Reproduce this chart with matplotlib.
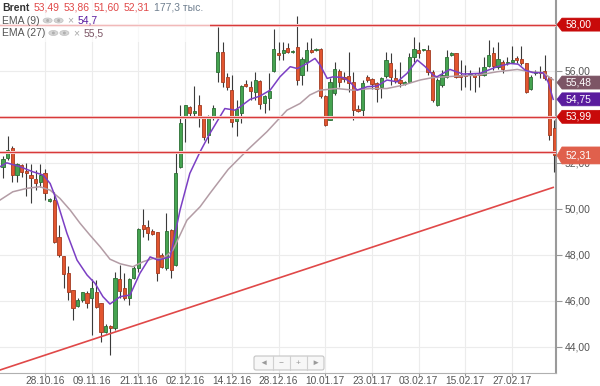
import matplotlib
matplotlib.use("Agg")
import matplotlib.pyplot as plt
from matplotlib.patches import Polygon, FancyBboxPatch, Ellipse, Rectangle
from matplotlib.lines import Line2D
from matplotlib.transforms import IdentityTransform
from matplotlib.ticker import FuncFormatter
import numpy as np

plt.rcParams['font.family'] = ['Liberation Sans', 'DejaVu Sans']

# daily candles, Brent
opens = [51.82, 52.18, 52.62, 51.46, 51.89, 51.64, 51.46, 51.27, 51.17, 51.53,
         50.35, 50.37, 48.75, 47.93, 47.18, 46.46, 45.78, 46.02, 46.34, 46.10,
         46.38, 45.88, 44.65, 44.88, 44.79, 46.92, 46.53, 46.10, 46.96, 47.40,
         49.27, 49.21, 49.04, 48.99, 47.98, 47.40, 49.07, 47.55, 51.82, 53.92,
         54.40, 54.17, 54.50, 53.99, 53.20, 54.02, 55.92, 56.79, 55.73, 55.15,
         53.82, 54.14, 55.43, 55.30, 55.08, 55.56, 54.60, 54.83, 55.99, 56.75,
         56.75, 56.99, 56.82, 57.04, 55.80, 56.38, 56.89, 56.89, 56.96, 54.89,
         53.85, 55.01, 55.99, 55.73, 55.76, 55.51, 54.31, 54.28, 55.70, 55.62,
         55.47, 55.30, 55.76, 56.35, 55.66, 55.59, 55.41, 55.51, 56.60, 56.89,
         56.89, 56.89, 55.95, 54.50, 55.37, 55.70, 56.70, 56.75, 55.80, 55.83,
         55.80, 55.80, 55.91, 55.80, 56.20, 56.75, 56.17, 56.38, 56.31, 56.38,
         56.53, 56.49, 56.31, 55.22, 55.88, 55.95, 55.99, 55.70, 53.49]
highs = [52.30, 53.15, 52.72, 52.00, 51.96, 51.99, 51.96, 51.67, 51.96, 51.70,
         50.46, 50.73, 49.28, 47.93, 47.51, 46.46, 46.10, 46.38, 46.40, 46.92,
         46.89, 45.88, 44.98, 44.95, 47.25, 47.55, 47.18, 46.96, 47.50, 49.14,
         49.98, 49.50, 49.10, 49.00, 48.05, 49.82, 49.10, 52.40, 54.50, 54.50,
         54.46, 55.33, 54.93, 53.99, 54.07, 54.50, 57.90, 57.25, 55.88, 55.80,
         54.72, 55.37, 55.59, 55.56, 55.95, 55.59, 54.93, 55.88, 57.83, 57.25,
         57.25, 57.18, 56.89, 58.37, 56.60, 57.25, 57.40, 57.00, 57.00, 54.93,
         55.66, 56.38, 56.09, 55.95, 56.82, 55.95, 54.50, 55.59, 55.80, 55.66,
         55.51, 55.73, 56.82, 56.75, 56.09, 56.38, 55.55, 56.75, 57.47, 57.25,
         56.95, 57.10, 56.02, 55.66, 56.02, 56.89, 56.80, 56.78, 56.46, 56.24,
         56.02, 55.88, 56.17, 56.57, 57.33, 57.04, 57.25, 56.45, 56.60, 57.07,
         56.63, 57.07, 56.31, 55.80, 56.02, 56.20, 56.68, 55.73, 53.86]
lows = [51.31, 52.10, 51.17, 51.17, 51.38, 50.54, 50.25, 50.80, 50.95, 50.37,
        50.28, 48.50, 47.90, 46.53, 46.02, 45.15, 45.73, 45.95, 45.66, 44.50,
        45.66, 44.21, 44.57, 43.63, 44.72, 46.10, 46.02, 45.80, 46.92, 47.25,
        48.78, 48.63, 48.85, 46.86, 47.40, 47.33, 46.96, 47.50, 51.75, 52.90,
        53.99, 53.99, 53.53, 52.98, 52.83, 53.85, 55.50, 55.30, 55.15, 53.56,
        53.15, 53.73, 55.27, 54.72, 54.72, 54.35, 54.14, 54.28, 55.95, 56.46,
        56.46, 56.75, 56.75, 55.37, 55.37, 55.99, 56.75, 56.85, 54.79, 53.59,
        53.85, 54.93, 55.30, 55.51, 55.08, 53.85, 54.21, 53.92, 55.51, 55.22,
        54.65, 54.79, 55.66, 55.37, 55.44, 55.30, 55.37, 55.44, 56.38, 56.53,
        56.85, 55.80, 54.65, 54.46, 55.30, 55.66, 56.65, 55.66, 55.15, 55.30,
        55.15, 55.08, 55.30, 55.76, 56.17, 56.02, 56.09, 55.88, 56.24, 56.31,
        56.31, 56.24, 55.04, 55.15, 55.80, 55.66, 55.59, 52.98, 51.60]
closes = [52.14, 52.54, 51.46, 51.96, 51.60, 51.56, 51.35, 51.12, 51.46, 50.66,
          50.40, 48.56, 47.98, 47.15, 46.38, 45.66, 46.02, 46.38, 45.88, 46.53,
          45.73, 44.65, 44.89, 44.80, 46.96, 46.43, 46.10, 46.92, 47.43, 49.10,
          49.12, 48.92, 48.90, 47.18, 47.47, 49.04, 47.33, 51.53, 53.70, 54.50,
          54.14, 54.25, 53.96, 53.10, 53.96, 54.38, 56.79, 55.51, 55.27, 53.78,
          54.35, 55.33, 55.33, 55.12, 55.59, 54.54, 54.90, 55.12, 56.93, 56.67,
          56.89, 56.82, 56.85, 55.59, 56.49, 56.89, 56.79, 56.96, 54.89, 53.63,
          55.51, 56.09, 55.51, 55.62, 55.47, 54.28, 54.25, 55.47, 55.59, 55.41,
          55.22, 55.66, 56.46, 55.70, 55.56, 55.44, 55.51, 56.60, 56.92, 56.75,
          56.92, 55.95, 54.72, 55.59, 55.80, 56.60, 56.75, 55.73, 55.73, 55.76,
          55.87, 55.70, 55.83, 56.17, 56.68, 56.20, 56.49, 56.09, 56.38, 56.46,
          56.46, 56.31, 55.08, 55.73, 55.95, 55.88, 55.66, 53.20, 52.31]

# indicator lines (candle index, value)
ema9_x = [0.36, 1.8, 4.65, 7.4, 9.6, 11.1, 12.6, 14.7, 16.85, 19.0, 20.7, 22.4,
          23.9, 26.1, 28.2, 30.3, 32.5, 34.2, 36.8, 38.9, 41.0, 43.2, 45.3,
          48.5, 50.7, 51.8, 53.9, 56.0, 58.2, 60.3, 62.5, 64.0, 66.1, 67.8,
          68.9, 70.4, 71.7, 73.8, 75.3, 76.8, 79.0, 81.1, 83.2, 85.4, 87.5,
          89.7, 91.4, 93.1, 93.9, 96.7, 99.5, 103.1, 106.8, 109.6, 111.3,
          112.8, 114.5, 116.6, 117.7, 118.8]
ema9_y = [51.82, 51.99, 51.82, 51.60, 51.46, 51.09, 50.30, 48.92, 47.76, 47.11,
          46.75, 46.17, 45.85, 46.17, 46.24, 47.18, 47.90, 47.76, 47.90, 49.93,
          51.53, 52.47, 53.27, 54.35, 54.28, 54.43, 54.75, 54.89, 55.15, 55.73,
          56.17, 56.09, 56.31, 56.53, 56.24, 55.66, 55.73, 55.70, 55.51, 55.15,
          55.30, 55.33, 55.59, 55.51, 55.88, 56.46, 56.17, 55.80, 55.73, 56.05,
          55.85, 55.88, 56.17, 56.31, 56.28, 56.02, 55.91, 55.91, 55.51, 54.75]
ema27_x = [0.36, 3.1, 6.1, 8.9, 11.1, 13.2, 15.4, 17.5, 19.6, 21.8, 23.9, 26.1,
           28.8, 31.0, 33.1, 35.3, 37.4, 40.4, 43.2, 45.3, 49.2, 53.3, 57.5,
           61.8, 64.6, 66.7, 68.9, 72.5, 76.0, 79.6, 83.2, 86.7, 90.3, 93.1,
           98.2, 102.5, 106.8, 111.1, 113.9, 116.6, 118.8]
ema27_y = [50.37, 50.73, 50.88, 50.95, 50.80, 50.44, 49.93, 49.36, 48.85, 48.34,
           47.80, 47.60, 47.47, 47.69, 47.83, 47.83, 48.20, 49.50, 50.08, 50.66,
           51.70, 52.54, 53.34, 54.28, 54.57, 54.94, 55.15, 55.22, 55.15, 55.22,
           55.22, 55.37, 55.59, 55.70, 55.76, 55.80, 55.95, 56.05, 55.95, 55.91,
           55.60]

date_labels = ["28.10.16", "09.11.16", "21.11.16", "02.12.16", "14.12.16",
               "28.12.16", "10.01.17", "23.01.17", "03.02.17", "15.02.17",
               "27.02.17"]

levels = [58.00, 53.99, 52.48]
trend_x = [0.36, 118.8]
trend_y = [42.98, 50.92]

tag_values = [58.00, 55.48, 54.75, 53.99, 52.31]
tag_texts = ["58,00", "55,48", "54,75", "53,99", "52,31"]
tag_colors = ["#c80a0a", "#7c5565", "#5a1c9e", "#c80a0a", "#e0604c"]

ohlc_text = ["53,49", "53,86", "51,60", "52,31"]
volume_text = "177,3 тыс."
ema9_last = "54,7"
ema27_last = "55,5"

W, H = 600, 386
fig = plt.figure(figsize=(W / 100, H / 100), dpi=100)
ax = fig.add_axes([0, 13 / H, 556 / W, 373 / H])

o = np.array(opens)
c = np.array(closes)
x = np.arange(1, len(o) + 1)
up = c >= o
bot = np.minimum(o, c)
hgt = np.maximum(np.abs(c - o), 0.04)

ax.vlines(x, lows, highs, color="#3a3a3a", lw=0.8, zorder=3)
ax.bar(x[up], hgt[up], bottom=bot[up], width=0.68, color="#45a350",
       edgecolor="#2b6e34", lw=0.6, zorder=4)
ax.bar(x[~up], hgt[~up], bottom=bot[~up], width=0.68, color="#e2552f",
       edgecolor="#a33a20", lw=0.6, zorder=4)

ax.plot(ema27_x, ema27_y, color="#b39ca5", lw=1.1, zorder=5)
ax.plot(ema9_x, ema9_y, color="#7b3fc4", lw=1.1, zorder=5)

for v in levels:
    ax.axhline(v, color="#f8d6d6", lw=2.2, zorder=5)
    ax.axhline(v, color="#d83a3a", lw=0.9, zorder=6)
ax.plot(trend_x, trend_y, color="#e04848", lw=1.2, zorder=6)

ax.set_xlim(0.36, 119.4)
ax.set_ylim(42.85, 59.07)
ax.set_xticks(np.arange(10, 10 * (len(date_labels) + 1), 10))
ax.set_xticklabels(date_labels)
ax.set_yticks(np.arange(44, 59, 2))
# 54 and 58 sit under the price tags
ax.yaxis.set_major_formatter(FuncFormatter(
    lambda v, p: "" if round(v) in (54, 58) else f"{v:.2f}".replace(".", ",")))
ax.yaxis.tick_right()
ax.grid(color="#ececec", lw=0.8)
ax.set_axisbelow(True)
for s in ["left", "top"]:
    ax.spines[s].set_visible(False)
ax.spines["right"].set_color("#9a9a9a")
ax.spines["right"].set_linewidth(1.5)
ax.spines["bottom"].set_color("#b0b0b0")
ax.tick_params(axis="y", length=4, color="#999999", labelsize=7.5,
               labelcolor="#555555", pad=2)
ax.tick_params(axis="x", length=2, color="#999999", labelsize=7.3,
               labelcolor="#555555", pad=0)

ident = IdentityTransform()

# price tags on the right
for v, t, col in zip(tag_values, tag_texts, tag_colors):
    yd = ax.transData.transform((0, v))[1]
    h = 17 if t == tag_texts[-1] else 13
    verts = [(557, yd), (562, yd + h / 2), (600, yd + h / 2),
             (600, yd - h / 2), (562, yd - h / 2)]
    fig.add_artist(Polygon(verts, closed=True, transform=ident, fc=col,
                           ec=col, lw=0.5, zorder=4))
    fig.text(566, yd, t, transform=ident, color="white", fontsize=7.5,
             va="center", ha="left", zorder=5)

# legend area
fig.add_artist(Rectangle((0, H - 42), 210, 42, transform=ident, fc="white",
                         ec="none", alpha=0.65, zorder=2))
renderer = fig.canvas.get_renderer()


def put(xp, yp, s, **kw):
    t = fig.text(xp, yp, s, transform=ident, va="center", ha="left",
                 fontsize=7.5, zorder=5, **kw)
    return t.get_window_extent(renderer).x1


def eyes(xp, yp):
    for k in range(2):
        cx = xp + 5 + k * 11
        fig.add_artist(Ellipse((cx, yp), 9, 5, transform=ident, fc="#d6d6d6",
                               ec="#c0c0c0", lw=0.5, zorder=5))
        fig.add_artist(Ellipse((cx, yp), 3, 3, transform=ident, fc="#b0b0b0",
                               ec="none", zorder=6))
    return xp + 22


y1 = H - 8
xp = put(2, y1, "Brent", color="#333333", fontweight="bold")
for s in ohlc_text:
    xp = put(xp + 4, y1, s, color="#e04848")
put(xp + 4, y1, volume_text, color="#6f7f8f")

y2 = H - 20.5
xp = put(2, y2, "EMA (9)", color="#555555")
xp = eyes(xp + 3, y2)
xp = put(xp + 3, y2, "×", color="#aaaaaa")
put(xp + 4, y2, ema9_last, color="#5a1c9e")

y3 = H - 33
xp = put(2, y3, "EMA (27)", color="#555555")
xp = eyes(xp + 3, y3)
xp = put(xp + 3, y3, "×", color="#aaaaaa")
put(xp + 4, y3, ema27_last, color="#7c5565")

# scroll / zoom widget
fig.add_artist(FancyBboxPatch((254, 16), 70, 14, boxstyle="round,pad=0,rounding_size=2",
                              transform=ident, fc="#f7f7f7", ec="#c4c4c4",
                              lw=0.8, zorder=3))
for xd in [272.5, 289.5, 306.5]:
    fig.add_artist(Line2D([xd, xd], [16, 30], transform=ident, color="#d0d0d0",
                          lw=0.8, zorder=4))
for xc, sym in zip([263.5, 281, 298, 315], ["◄", "−", "+", "►"]):
    fig.text(xc, 23, sym, transform=ident, color="#9a9a9a", fontsize=6,
             ha="center", va="center", zorder=5)

fig.savefig("out.png", dpi=100)
